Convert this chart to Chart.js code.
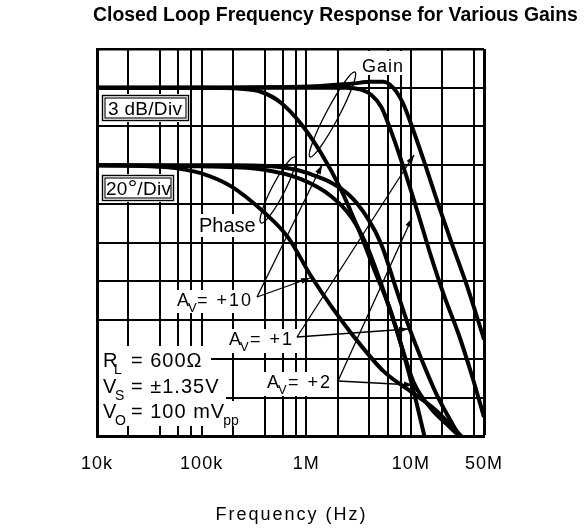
<!DOCTYPE html>
<html>
<head>
<meta charset="utf-8">
<script src="https://cdn.jsdelivr.net/npm/chart.js@4.4.1/dist/chart.umd.min.js"></script>
<style>
  html, body { margin: 0; padding: 0; background: #fff; }
  #wrap { position: relative; width: 587px; height: 529px; }
  #chart { position: absolute; left: 0; top: 0; }
  #title { position: absolute; left: 93px; top: 5px; font: bold 19.4px "Liberation Sans", Arial, sans-serif; line-height: 1; white-space: nowrap; color: #000; }
</style>
</head>
<body>
<div id="wrap">
  <canvas id="chart" width="587" height="529"></canvas>
  <div id="title">Closed Loop Frequency Response for Various Gains</div>
</div>
<script>
// grid lines (Hz) and the labelled ones
const gridFreqs = [1e4, 2e4, 4e4, 6e4, 8e4, 1e5, 2e5, 4e5, 6e5, 8e5, 1e6, 2e6, 4e6, 6e6, 8e6, 1e7, 2e7, 4e7, 5e7];
const labelFreqs = [1e4, 1e5, 1e6, 1e7, 5e7];
const labelTexts = ['10k', '100k', '1M', '10M', '50M'];

// gain, 3 dB/div (0 dB on the 2nd line from top)
const gain10Freq = [1e4, 1e5, 2.37e5, 3.68e5, 5.72e5, 8.89e5, 1.38e6, 2.15e6, 2.69e6, 3.34e6, 4.46e6, 6.49e6, 8.65e6, 1.08e7, 1.35e7];
const gain10dB = [0, 0, -0.08, -0.31, -1.16, -2.78, -5.03, -7.89, -9.66, -11.44, -14.07, -17.39, -20.79, -23.73, -27];
const gain2Freq = [1e4, 8.89e5, 2.4e6, 3.34e6, 4.17e6, 5.2e6, 6.49e6, 8.65e6, 1.18e7, 1.57e7, 2.09e7, 2.86e7, 3.8e7, 5e7];
const gain2dB = [0, 0, 0, -0.15, -0.54, -1.47, -3.4, -6.34, -9.82, -13.14, -16.16, -19.09, -22.19, -25.5];
const gain1Freq = [1e4, 8.89e5, 2.69e6, 4.17e6, 5.43e6, 6.78e6, 8.45e6, 1.05e7, 1.35e7, 1.83e7, 2.44e7, 3.4e7, 5e7];
const gain1dB = [0, 0.08, 0.31, 0.46, 0.46, 0, -1.24, -3.25, -5.8, -9.05, -11.98, -15.23, -19.48];

// phase, 20 deg/div (0 deg on the 4th line from top)
const phase10Freq = [1e4, 3.24e4, 5.6e4, 9.8e4, 1.9e5, 3.93e5, 6.67e5, 1.11e6, 1.73e6, 3.13e6, 5.56e6, 1.01e7, 1.68e7, 2.44e7, 3.05e7];
const phase10Deg = [0, -0.5, -1.5, -4.1, -10.8, -24.2, -37.1, -57.2, -72.7, -91.2, -106.7, -117, -125.8, -134.5, -140];
const phase2Freq = [1e4, 9.8e4, 3.68e5, 8.89e5, 1.73e6, 2.69e6, 3.73e6, 5.2e6, 7.24e6, 1.08e7, 1.57e7, 2.18e7, 2.92e7];
const phase2Deg = [0, -0.5, -2.1, -7.2, -16, -26.8, -40.7, -61.3, -84.5, -112.9, -125.8, -133.5, -140];
const phase1Freq = [1e4, 1.9e5, 5.72e5, 1.185e6, 2.51e6, 3.91e6, 5.2e6, 7.24e6, 9.66e6, 1.26e7, 1.75e7, 2.34e7, 2.92e7];
const phase1Deg = [0, 0, -1, -5.2, -14.9, -27.8, -40.7, -63.9, -84, -100, -118, -130.9, -140];

const pts = (fs, vs) => fs.map((f, i) => ({ x: f, y: vs[i] }));

function curve(data, axis) {
  return {
    data,
    yAxisID: axis,
    borderColor: '#000',
    borderWidth: 4,
    pointRadius: 0,
    borderJoinStyle: 'round',
    cubicInterpolationMode: 'monotone',
    clip: 0
  };
}

// labels, boxes, leaders and arrows drawn over the plot
const notes = {
  id: 'notes',
  beforeDraw(chart) {
    chart.ctx.letterSpacing = '1px';
  },
  afterDraw(chart) {
    const c = chart.ctx;
    const font = s => s + 'px "Liberation Sans", Arial, sans-serif';
    c.save();
    c.fillStyle = '#000';
    c.strokeStyle = '#000';
    c.textAlign = 'left';
    c.textBaseline = 'alphabetic';

    const blank = (x, y, w, h) => { c.fillStyle = '#fff'; c.fillRect(x, y, w, h); c.fillStyle = '#000'; };
    const text = (s, x, y, size, sp) => {
      c.font = font(size);
      c.letterSpacing = (sp || 0) + 'px';
      c.fillText(s, x, y);
      return x + c.measureText(s).width;
    };
    const box = (x, y, w, h) => {
      c.lineWidth = 1.4;
      c.strokeRect(x, y, w, h);
      c.lineWidth = 1.1;
      c.strokeRect(x + 2.5, y + 2.5, w - 5, h - 5);
    };
    const arrow = (x1, y1, x2, y2) => {
      c.lineWidth = 1.3;
      c.beginPath(); c.moveTo(x1, y1); c.lineTo(x2, y2); c.stroke();
      const a = Math.atan2(y2 - y1, x2 - x1), L = 9, W = 3;
      c.beginPath();
      c.moveTo(x2, y2);
      c.lineTo(x2 - L * Math.cos(a) + W * Math.sin(a), y2 - L * Math.sin(a) - W * Math.cos(a));
      c.lineTo(x2 - L * Math.cos(a) - W * Math.sin(a), y2 - L * Math.sin(a) + W * Math.cos(a));
      c.closePath(); c.fill();
    };
    const loop = (x1, y1, x2, y2, r) => {
      c.lineWidth = 1.3;
      c.beginPath();
      c.ellipse((x1 + x2) / 2, (y1 + y2) / 2, Math.hypot(x2 - x1, y2 - y1) / 2, r,
        Math.atan2(y2 - y1, x2 - x1), 0, Math.PI * 2);
      c.stroke();
    };

    // scale boxes
    blank(101, 94, 89, 28);
    box(102.5, 95.5, 86, 25);
    text('3 dB/Div', 108, 115, 19, 0.3);

    blank(101, 174, 74, 28);
    box(102.5, 175.5, 71, 25);
    let x = text('20', 106, 195, 19, 0.3);
    x = text('°', x, 196, 24, 0);
    text('/Div', x, 195, 19, 0.3);

    // Gain / Phase leaders
    blank(359, 51, 47, 24);
    text('Gain', 362, 72, 18, 1);
    loop(310, 157, 355, 72, 6.5);

    blank(196, 214, 62, 23);
    text('Phase', 199, 232, 20, 0);
    loop(261, 223, 295, 157, 6.5);

    // gain labels
    blank(174, 290, 85, 23);
    text('A', 177, 306, 18, 0);
    text('V', 188, 312, 13, 0);
    text('= +10', 197, 306, 18, 2);
    arrow(257, 297, 322, 165);
    arrow(257, 297, 310, 278);

    blank(226, 329, 71, 24);
    text('A', 229, 345, 18, 0);
    text('V', 240, 351, 13, 0);
    text('= +1', 250, 345, 18, 2);
    arrow(297, 337, 414, 155);
    arrow(297, 337, 408, 329);

    blank(264, 372, 72, 24);
    text('A', 267, 388, 18, 0);
    text('V', 278, 394, 13, 0);
    text('= +2', 288, 388, 18, 2);
    arrow(338, 381, 412, 218);
    arrow(338, 381, 413, 385);

    // test conditions
    blank(99, 346, 112, 31);
    blank(99, 377, 127, 24);
    blank(99, 401, 145, 25);
    text('R', 103, 367, 20, 0);
    text('L', 114, 374, 14, 0);
    text('= 600Ω', 131, 367, 20, 1);
    text('V', 103, 393, 20, 0);
    text('S', 115, 400, 14, 0);
    text('= ±1.35V', 131, 393, 20, 1);
    text('V', 103, 418, 20, 0);
    text('O', 115, 425, 14, 0);
    x = text('= 100 mV', 131, 418, 20, 1);
    text('pp', x - 2, 425, 14, 0);

    // axis title
    c.textAlign = 'center';
    const area = chart.chartArea;
    text('Frequency (Hz)', (area.left + area.right) / 2 + 1, 520, 18, 2);
    c.restore();
  }
};

new Chart(document.getElementById('chart'), {
  type: 'line',
  data: {
    datasets: [
      curve(pts(gain10Freq, gain10dB), 'y'),
      curve(pts(gain2Freq, gain2dB), 'y'),
      curve(pts(gain1Freq, gain1dB), 'y'),
      curve(pts(phase10Freq, phase10Deg), 'yp'),
      curve(pts(phase2Freq, phase2Deg), 'yp'),
      curve(pts(phase1Freq, phase1Deg), 'yp')
    ]
  },
  options: {
    responsive: false,
    animation: false,
    devicePixelRatio: 1,
    layout: { padding: { left: 97, right: 103, top: 49, bottom: 37 } },
    plugins: { legend: { display: false }, tooltip: { enabled: false } },
    scales: {
      x: {
        type: 'logarithmic',
        min: 1e4,
        max: 5e7,
        afterBuildTicks: scale => { scale.ticks = gridFreqs.map(v => ({ value: v })); },
        ticks: {
          autoSkip: false,
          maxRotation: 0,
          minRotation: 0,
          padding: 17,
          color: '#000',
          font: { family: '"Liberation Sans", Arial, sans-serif', size: 18 },
          callback: v => {
            const i = labelFreqs.indexOf(v);
            return i < 0 ? '' : labelTexts[i];
          }
        },
        grid: {
          color: '#000',
          drawTicks: false,
          lineWidth: ctx => (ctx.tick && ctx.tick.value === 5e7 ? 3 : 2)
        },
        border: { display: true, color: '#000', width: 3 }
      },
      y: {
        min: -27,
        max: 3,
        ticks: { stepSize: 3, display: false },
        grid: {
          color: '#000',
          drawTicks: false,
          lineWidth: ctx => (ctx.tick && ctx.tick.value === 3 ? 2.5 : 2)
        },
        border: { display: true, color: '#000', width: 3 }
      },
      yp: {
        display: false,
        min: -140,
        max: 60
      }
    }
  },
  plugins: [notes]
});
</script>
</body>
</html>
